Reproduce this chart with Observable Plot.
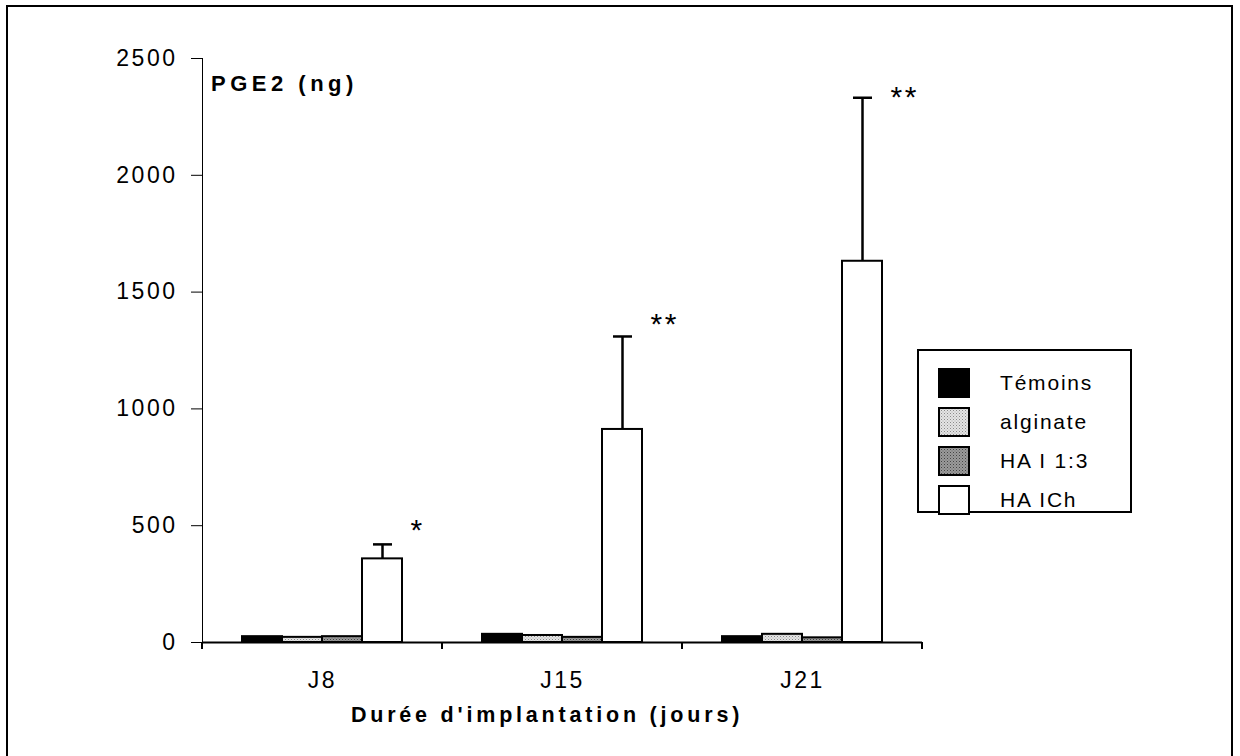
<!DOCTYPE html>
<html>
<head>
<meta charset="utf-8">
<script src="https://cdn.jsdelivr.net/npm/d3@7"></script>
<script src="https://cdn.jsdelivr.net/npm/@observablehq/plot@0.6"></script>
<style>
  html, body { margin: 0; padding: 0; background: #fff; }
  #wrap { position: relative; width: 1240px; height: 756px; overflow: hidden; font-family: "Liberation Sans", Arial, sans-serif; }
  #frame { position: absolute; left: 6px; top: 5px; width: 1227px; height: 800px; border-left: 2px solid #000; border-top: 2px solid #000; border-right: 2px solid #000; box-sizing: border-box; }
  #chart { position: absolute; left: 0; top: 0; }
  #ylab { position: absolute; left: 211px; top: 71px; font-weight: bold; font-size: 22px; letter-spacing: 4.5px; }
  #xlab { position: absolute; left: 0; width: 1094px; text-align: center; top: 703px; font-weight: bold; font-size: 21.5px; letter-spacing: 3.8px; }
  #legend { position: absolute; left: 917px; top: 349px; width: 215px; height: 164px; border: 2px solid #000; box-sizing: border-box; background: #fff; }
  .row { position: absolute; left: 19px; height: 30px; display: flex; align-items: center; font-size: 21px; letter-spacing: 1.8px; }
  .row svg { margin-right: 30px; }
</style>
</head>
<body>
<svg width="0" height="0" style="position:absolute">
  <defs>
    <pattern id="patLight" width="3" height="3" patternUnits="userSpaceOnUse">
      <rect width="3" height="3" fill="#e4e4e4"></rect>
      <rect x="0" y="0" width="1" height="1" fill="#8a8a8a"></rect>
      <rect x="1.5" y="1.5" width="1" height="1" fill="#aaaaaa"></rect>
    </pattern>
    <pattern id="patDark" width="3" height="3" patternUnits="userSpaceOnUse">
      <rect width="3" height="3" fill="#9a9a9a"></rect>
      <rect x="0" y="0" width="1" height="1" fill="#444"></rect>
      <rect x="1.5" y="1.5" width="1" height="1" fill="#666"></rect>
    </pattern>
  </defs>
</svg>
<div id="wrap">
  <div id="frame"></div>
  <div id="chart"></div>
  <div id="ylab">PGE2 (ng)</div>
  <div id="xlab">Durée d'implantation (jours)</div>
  <div id="legend"></div>
</div>
<script>
// ---- Data ----
const groups = ["J8", "J15", "J21"];
const series = ["Témoins", "alginate", "HA I 1:3", "HA ICh"];
const temoins = [25, 35, 25];
const alginate = [22, 30, 35];
const haI13 = [25, 22, 20];
const haICh = [358, 912, 1632];
const haIChErr = [62, 398, 700];
const stars = ["*", "**", "**"];
const starLevel = [480, 1360, 2335];
const yTicks = [0, 500, 1000, 1500, 2000, 2500];
const fills = ["#000", "url(#patLight)", "url(#patDark)", "#fff"];

// ---- Table ----
const seriesValues = [temoins, alginate, haI13, haICh];
const rows = [];
groups.forEach((g, gi) => {
  series.forEach((s, si) => rows.push({group: g, series: s, value: seriesValues[si][gi]}));
});
const errRows = groups.map((g, gi) => ({group: g, series: "HA ICh", lo: haICh[gi], hi: haICh[gi] + haIChErr[gi]}));
const starRows = groups.map((g, gi) => ({group: g, series: "HA ICh", y: starLevel[gi], label: stars[gi]}));

const chart = Plot.plot({
  width: 1240,
  height: 756,
  marginLeft: 202,
  marginRight: 318,
  marginTop: 58,
  marginBottom: 114,
  style: {fontFamily: "Liberation Sans, Arial, sans-serif", fontSize: "23px", letterSpacing: "2.5px", background: "transparent", color: "#000"},
  fx: {domain: groups, padding: 0, label: null, axis: "bottom", tickSize: 0, tickPadding: 29},
  x: {domain: series, paddingInner: 0, paddingOuter: 0.93, axis: null},
  y: {domain: [0, 2500], ticks: yTicks, tickFormat: d => String(d), label: null, tickSize: 11, tickPadding: 14, line: true},
  color: {domain: series, range: fills},
  marks: [
    Plot.barY(rows, {fx: "group", x: "series", y: "value", fill: "series", stroke: "#000", strokeWidth: 2}),
    Plot.ruleX(errRows, {fx: "group", x: "series", y1: "lo", y2: "hi", stroke: "#000", strokeWidth: 2.5}),
    Plot.tickY(errRows, {fx: "group", x: "series", y: "hi", stroke: "#000", strokeWidth: 2.5, insetLeft: 11, insetRight: 10}),
    Plot.text(starRows, {fx: "group", x: "series", y: "y", text: "label", textAnchor: "start", dx: 28, fontSize: 30, fill: "#000"}),
    Plot.ruleY([0], {stroke: "#000", strokeWidth: 2})
  ]
});
document.getElementById("chart").appendChild(chart);

// Group-boundary ticks on the x axis, from the plot's own scales
const fxScale = chart.scale("fx");
const yScale = chart.scale("y");
const y0 = yScale.apply(0);
const svg = d3.select(chart.tagName.toLowerCase() === "svg" ? chart : chart.querySelector("svg"));
const bounds = groups.map(g => fxScale.apply(g)).concat([fxScale.apply(groups[groups.length - 1]) + fxScale.bandwidth]);
svg.append("g").selectAll("line").data(bounds).join("line")
  .attr("x1", d => d).attr("x2", d => d)
  .attr("y1", y0).attr("y2", y0 + 7)
  .attr("stroke", "#000").attr("stroke-width", 2);

// Legend
const legend = d3.select("#legend");
series.forEach((s, i) => {
  const row = legend.append("div").attr("class", "row").style("top", (17 + i * 39) + "px");
  const sw = row.append("svg").attr("width", 32).attr("height", 30);
  sw.append("rect").attr("x", 1).attr("y", 1).attr("width", 30).attr("height", 28)
    .attr("fill", fills[i]).attr("stroke", "#000").attr("stroke-width", 2);
  row.append("span").text(s);
});
</script>
</body>
</html>
